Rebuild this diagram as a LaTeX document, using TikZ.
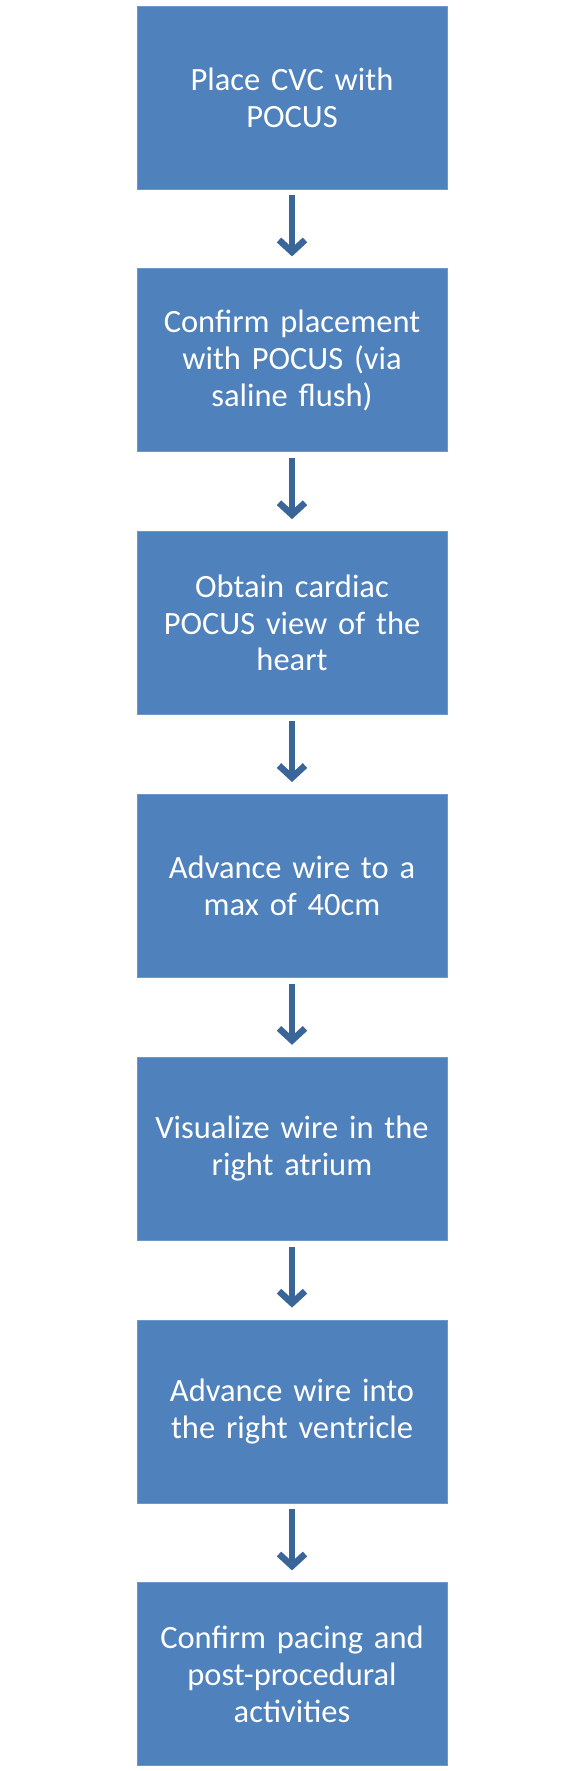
\documentclass[tikz,border=0pt]{standalone}
\usepackage{fontspec}
\setmainfont{Carlito}
\usetikzlibrary{positioning,arrows.meta}
\definecolor{boxblue}{HTML}{4F81BD}
\definecolor{boxedge}{HTML}{7097CB}
\definecolor{arrowblue}{HTML}{3A6599}
\begin{document}
\begin{tikzpicture}[x=1pt,y=1pt,
  node distance=79pt,
  stepbox/.style={draw=boxedge, line width=0.8pt, fill=boxblue, text=white,
    minimum width=310pt, minimum height=183pt, text width=302pt, align=center,
    inner sep=0pt, font=\fontsize{32.5}{36.7}\selectfont},
  flow/.style={draw=arrowblue, line width=6.5pt,
    -{Straight Barb[length=12pt,width=26pt,line width=6.5pt]},
    shorten <=6pt, shorten >=12pt}]
  \useasboundingbox (0,0) rectangle (584,-1771);

  \node[stepbox] (place) at (292,-97.5) {Place CVC with\\POCUS};
  \node[stepbox, below=of place] (confirm) {Confirm placement\\with POCUS (via\\saline flush)};
  \node[stepbox, below=of confirm] (view) {Obtain cardiac\\POCUS view of the\\heart};
  \node[stepbox, below=of view] (advance) {Advance wire to a\\max of 40cm};
  \node[stepbox, below=of advance] (atrium) {Visualize wire in the\\right atrium};
  \node[stepbox, below=of atrium] (ventricle) {Advance wire into\\the right ventricle};
  \node[stepbox, below=of ventricle] (pacing) {Confirm pacing and\\post-procedural\\activities};

  \foreach \a/\b in {place/confirm, confirm/view, view/advance,
    advance/atrium, atrium/ventricle, ventricle/pacing}
    \draw[flow] (\a) -- (\b);
\end{tikzpicture}
\end{document}
